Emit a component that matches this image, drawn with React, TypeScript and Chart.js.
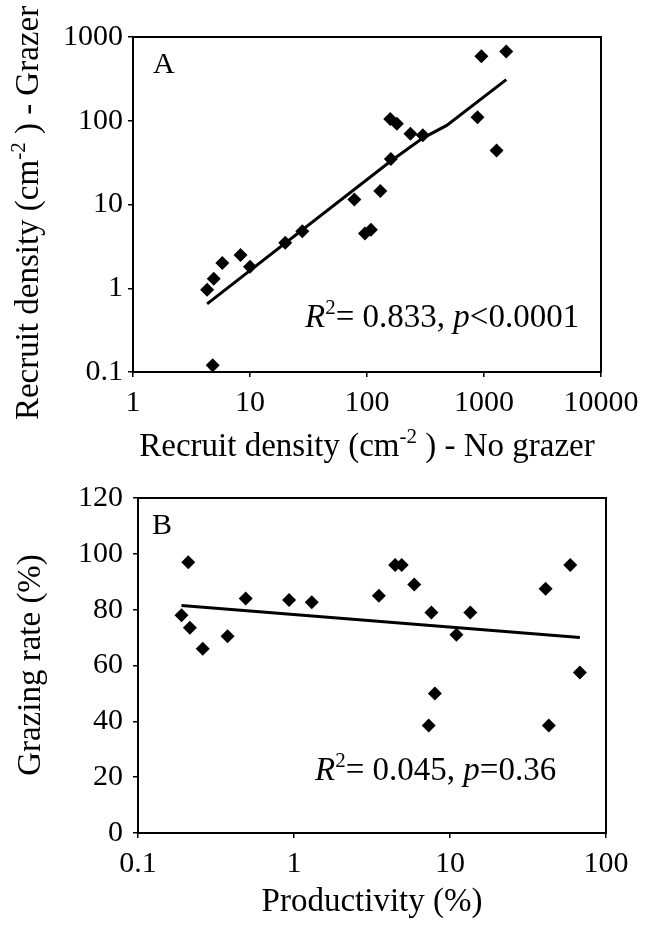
import React, { useEffect, useRef } from "react";
import { Chart, registerables } from "chart.js";

Chart.register(...registerables);

const FONT = '"Liberation Serif", "Times New Roman", serif';

// ---------- Panel A data ----------
const noGrazerA = [4.3, 4.9, 5.8, 8.3, 4.8, 10, 20, 28, 78, 96, 108, 130, 160, 158, 180, 235, 300, 880, 950, 1280, 1550];
const grazerA = [0.96, 1.3, 2.0, 2.5, 0.12, 1.8, 3.5, 4.8, 11.5, 4.5, 5.0, 14.5, 35, 105, 92, 70, 67, 110, 590, 44, 670];
const trendAx = [4.3, 160, 300, 480, 1550];
const trendAy = [0.65, 33, 62, 88, 310];
const xTicksA = [1, 10, 100, 1000, 10000];
const xLabelsA = ["1", "10", "100", "1000", "10000"];
const yTicksA = [0.1, 1, 10, 100, 1000];
const yLabelsA = ["0.1", "1", "10", "100", "1000"];

// ---------- Panel B data ----------
const productivityB = [0.19, 0.21, 0.215, 0.26, 0.375, 0.49, 0.93, 1.3, 3.5, 4.45, 4.9, 5.9, 7.6, 7.3, 8.0, 11, 13.5, 41, 43, 59, 68];
const grazingB = [78, 97, 73.5, 66, 70.5, 84, 83.5, 82.7, 85, 96, 96, 89, 79, 38.5, 50, 71, 79, 87.5, 38.5, 96, 57.5];
const trendBx = [0.19, 68];
const trendBy = [81.5, 70];
const xTicksB = [0.1, 1, 10, 100];
const xLabelsB = ["0.1", "1", "10", "100"];

type Seg = { t: string; i?: boolean; sup?: boolean };

function richWidth(ctx: CanvasRenderingContext2D, segs: Seg[], size: number) {
  let w = 0;
  for (const s of segs) {
    ctx.font = `${s.i ? "italic " : ""}${s.sup ? Math.round(size * 0.65) : size}px ${FONT}`;
    w += ctx.measureText(s.t).width;
  }
  return w;
}

function drawRich(
  ctx: CanvasRenderingContext2D,
  segs: Seg[],
  x: number,
  y: number,
  size: number,
  align: "left" | "center"
) {
  ctx.save();
  ctx.fillStyle = "#000";
  ctx.textBaseline = "alphabetic";
  ctx.textAlign = "left";
  const total = richWidth(ctx, segs, size);
  let cx = align === "center" ? x - total / 2 : x;
  for (const s of segs) {
    ctx.font = `${s.i ? "italic " : ""}${s.sup ? Math.round(size * 0.65) : size}px ${FONT}`;
    ctx.fillText(s.t, cx, s.sup ? y - size * 0.38 : y);
    cx += ctx.measureText(s.t).width;
  }
  ctx.restore();
}

type Deco = {
  panel: string;
  panelX: number;
  panelY: number;
  xTitle: Seg[];
  xTitleY: number;
  yTitle: Seg[];
  yTitleX: number;
  yTitleCenter: number;
  note: Seg[];
  noteX: number;
  noteY: number;
};

function makeDecorPlugin(d: Deco) {
  return {
    id: "decor" + d.panel,
    beforeDatasetsDraw(chart: any) {
      const { ctx, chartArea } = chart;
      ctx.save();
      ctx.strokeStyle = "#000";
      ctx.lineWidth = 2;
      ctx.strokeRect(chartArea.left, chartArea.top, chartArea.right - chartArea.left, chartArea.bottom - chartArea.top);
      ctx.restore();
    },
    afterDraw(chart: any) {
      const { ctx, chartArea } = chart;
      const size = 33;
      ctx.save();
      ctx.fillStyle = "#000";
      ctx.font = `30px ${FONT}`;
      ctx.textBaseline = "alphabetic";
      ctx.fillText(d.panel, d.panelX, d.panelY);
      ctx.restore();
      drawRich(ctx, d.xTitle, (chartArea.left + chartArea.right) / 2, d.xTitleY, size, "center");
      ctx.save();
      ctx.translate(d.yTitleX, d.yTitleCenter);
      ctx.rotate(-Math.PI / 2);
      drawRich(ctx, d.yTitle, 0, 0, size, "center");
      ctx.restore();
      drawRich(ctx, d.note, d.noteX, d.noteY, 33, "left");
    },
  };
}

function axisCommon() {
  return {
    ticks: {
      font: { family: FONT, size: 30 },
      color: "#000",
      maxRotation: 0,
      autoSkip: false,
    },
    grid: { drawOnChartArea: false, drawTicks: true, tickLength: 5, color: "#000", lineWidth: 1.5 },
    border: { display: false },
  };
}

export default function App() {
  const refA = useRef<HTMLCanvasElement | null>(null);
  const refB = useRef<HTMLCanvasElement | null>(null);

  useEffect(() => {
    document.body.style.margin = "0";
    const ptsA = noGrazerA.map((x, i) => ({ x, y: grazerA[i] }));
    const lineA = trendAx.map((x, i) => ({ x, y: trendAy[i] }));
    const ptsB = productivityB.map((x, i) => ({ x, y: grazingB[i] }));
    const lineB = trendBx.map((x, i) => ({ x, y: trendBy[i] }));

    const ca = axisCommon();
    const chartA = new Chart(refA.current!, {
      type: "scatter",
      data: {
        datasets: [
          {
            data: lineA,
            showLine: true,
            borderColor: "#000",
            borderWidth: 3,
            pointRadius: 0,
            fill: false,
            order: 2,
          },
          {
            data: ptsA,
            pointStyle: "rectRot",
            pointRadius: 7,
            backgroundColor: "#000",
            borderColor: "#000",
            borderWidth: 0,
            order: 1,
          },
        ],
      },
      options: {
        animation: false,
        responsive: false,
        devicePixelRatio: 1,
        layout: { padding: { top: 37, right: 52, bottom: 0, left: 0 } },
        plugins: { legend: { display: false }, tooltip: { enabled: false } },
        scales: {
          x: {
            type: "logarithmic",
            min: 1,
            max: 10000,
            afterBuildTicks: (s: any) => {
              s.ticks = xTicksA.map((v) => ({ value: v }));
            },
            afterFit: (s: any) => {
              s.height = 93;
            },
            ticks: { ...ca.ticks, padding: 8, callback: (_v: any, i: number) => xLabelsA[i] },
            grid: ca.grid,
            border: ca.border,
          },
          y: {
            type: "logarithmic",
            min: 0.1,
            max: 1000,
            afterBuildTicks: (s: any) => {
              s.ticks = yTicksA.map((v) => ({ value: v }));
            },
            afterFit: (s: any) => {
              s.width = 133;
            },
            ticks: { ...ca.ticks, padding: 5, callback: (_v: any, i: number) => yLabelsA[i] },
            grid: ca.grid,
            border: ca.border,
          },
        },
      } as any,
      plugins: [
        makeDecorPlugin({
          panel: "A",
          panelX: 153,
          panelY: 73,
          xTitle: [{ t: "Recruit density (cm" }, { t: "-2", sup: true }, { t: " ) - No grazer" }],
          xTitleY: 456,
          yTitle: [{ t: "Recruit density (cm" }, { t: "-2", sup: true }, { t: " ) - Grazer" }],
          yTitleX: 38,
          yTitleCenter: 213,
          note: [{ t: "R", i: true }, { t: "2", sup: true }, { t: "= 0.833, " }, { t: "p", i: true }, { t: "<0.0001" }],
          noteX: 305,
          noteY: 327,
        }),
      ],
    });

    const cb = axisCommon();
    const chartB = new Chart(refB.current!, {
      type: "scatter",
      data: {
        datasets: [
          {
            data: lineB,
            showLine: true,
            borderColor: "#000",
            borderWidth: 3,
            pointRadius: 0,
            fill: false,
            order: 2,
          },
          {
            data: ptsB,
            pointStyle: "rectRot",
            pointRadius: 7,
            backgroundColor: "#000",
            borderColor: "#000",
            borderWidth: 0,
            order: 1,
          },
        ],
      },
      options: {
        animation: false,
        responsive: false,
        devicePixelRatio: 1,
        layout: { padding: { top: 33, right: 47, bottom: 0, left: 0 } },
        plugins: { legend: { display: false }, tooltip: { enabled: false } },
        scales: {
          x: {
            type: "logarithmic",
            min: 0.1,
            max: 100,
            afterBuildTicks: (s: any) => {
              s.ticks = xTicksB.map((v) => ({ value: v }));
            },
            afterFit: (s: any) => {
              s.height = 97;
            },
            ticks: { ...cb.ticks, padding: 8, callback: (_v: any, i: number) => xLabelsB[i] },
            grid: cb.grid,
            border: cb.border,
          },
          y: {
            type: "linear",
            min: 0,
            max: 120,
            afterFit: (s: any) => {
              s.width = 138;
            },
            ticks: { ...cb.ticks, padding: 10, stepSize: 20 },
            grid: cb.grid,
            border: cb.border,
          },
        },
      } as any,
      plugins: [
        makeDecorPlugin({
          panel: "B",
          panelX: 152,
          panelY: 69,
          xTitle: [{ t: "Productivity (%)" }],
          xTitleY: 446,
          yTitle: [{ t: "Grazing rate (%)" }],
          yTitleX: 40,
          yTitleCenter: 200,
          note: [{ t: "R", i: true }, { t: "2", sup: true }, { t: "= 0.045, " }, { t: "p", i: true }, { t: "=0.36" }],
          noteX: 315,
          noteY: 315,
        }),
      ],
    });

    return () => {
      chartA.destroy();
      chartB.destroy();
    };
  }, []);

  return (
    <div style={{ width: 653, background: "#fff" }}>
      <canvas ref={refA} width={653} height={465} style={{ display: "block" }} />
      <canvas ref={refB} width={653} height={465} style={{ display: "block" }} />
    </div>
  );
}
